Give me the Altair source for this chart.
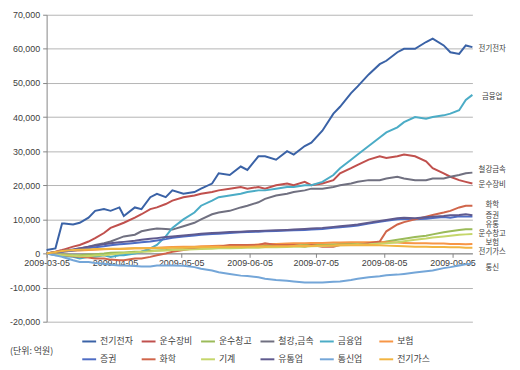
import altair as alt
import pandas as pd

dates = ["2009-03-05","2009-03-09","2009-03-12","2009-03-13","2009-03-17","2009-03-20","2009-03-24","2009-03-27",
         "2009-03-31","2009-04-03","2009-04-07","2009-04-09","2009-04-14","2009-04-17","2009-04-21","2009-04-24",
         "2009-04-28","2009-05-01","2009-05-06","2009-05-11","2009-05-14","2009-05-19","2009-05-22","2009-05-27",
         "2009-06-01","2009-06-04","2009-06-09","2009-06-12","2009-06-17","2009-06-22","2009-06-25","2009-06-30",
         "2009-07-03","2009-07-08","2009-07-13","2009-07-16","2009-07-21","2009-07-24","2009-07-29","2009-08-03",
         "2009-08-06","2009-08-11","2009-08-14","2009-08-19","2009-08-24","2009-08-27","2009-09-01","2009-09-04",
         "2009-09-08","2009-09-11","2009-09-14"]

elec = [1000,1500,8800,8800,8500,9000,10500,12500,13000,12500,13500,11000,13500,13000,16500,17500,16500,18500,
        17500,18000,19000,20500,23500,23000,25500,24500,28500,28500,27500,30000,29000,31500,32500,36000,41000,
        43000,47000,49000,52500,55500,56500,59000,60000,60000,62000,63000,61000,59000,58500,61000,60500]
trans_eq = [0,500,1000,1200,2000,2500,3500,4500,6000,7500,8500,9000,10500,11500,13000,13500,14500,15500,16500,
            17000,17500,18000,18500,19000,19500,19000,19500,19000,20000,20500,20000,21000,20000,20500,21500,23500,
            25000,26000,27500,28500,28000,28500,29000,28500,27000,25000,23500,22500,21500,21000,20500]
transport = [0,-200,-300,-300,-500,-500,-300,-200,0,200,300,300,500,600,800,900,1000,1200,1300,1500,1600,1700,
             1800,1900,2000,2000,2100,2200,2300,2400,2400,2500,2500,2600,2700,2800,2900,3000,3000,3100,3500,4000,
             4300,4800,5200,5600,6200,6500,6900,7100,7100]
steel = [0,300,500,700,1000,1500,2000,2500,3000,3500,4500,5000,5500,6500,7000,7300,7200,7000,8000,9000,10000,
         11500,12000,12500,13500,14000,15000,16000,17000,17500,18000,18500,19000,19000,19500,20000,20500,21000,
         21500,21500,22000,22500,22000,21500,21500,22000,22000,22500,23000,23500,23700]
finance = [0,-500,-500,-800,-1000,-1500,-1000,-1000,-500,-1000,-500,-500,0,500,1500,2500,5000,7500,10000,12000,
           14000,15500,16500,17000,17500,18000,18500,18500,19000,19500,19500,20000,20000,21000,23000,25000,27500,
           29000,31500,34000,35500,37000,38500,40000,39500,40000,40500,41000,42000,45000,46500]
insurance = [0,300,500,600,800,900,1000,1100,1200,1300,1300,1400,1500,1500,1600,1700,1800,1900,2000,2000,2100,
             2200,2300,2300,2400,2500,2600,2700,2800,2900,3000,3000,3100,3100,3200,3200,3300,3300,3300,3400,3300,
             3200,3100,3000,3000,2900,2900,2800,2800,2700,2800]
securities = [0,300,500,600,900,1100,1500,1800,2100,2400,2700,2800,3100,3300,3500,3800,4200,4600,5000,5300,5500,
              5700,5800,6000,6200,6300,6400,6500,6600,6700,6800,6900,7000,7200,7500,7700,8000,8200,8800,9300,9600,
              10000,10200,10000,10200,10400,10700,10500,10900,10800,10800]
chemical = [0,-300,-500,-500,-800,-1000,-1200,-1500,-1500,-1800,-2000,-2000,-1500,-1500,-1000,-500,0,500,1000,
            1500,1500,2000,2000,2500,2500,2500,2500,3000,2500,2500,2500,2000,2500,2000,2000,2500,2500,2500,3000,
            3500,6500,8500,9200,10000,10800,11300,12000,12500,13500,14000,14000]
machinery = [0,-300,-500,-500,-700,-800,-800,-600,-500,-300,0,100,300,500,600,800,900,1000,1100,1200,1300,1400,
             1500,1500,1600,1700,1700,1800,1800,1900,2000,2000,2100,2200,2300,2400,2500,2600,2700,2900,3000,3300,
             3600,4000,4400,4700,5000,5200,5500,5600,5700]
retail = [0,400,700,800,1200,1500,2000,2300,2700,3000,3300,3400,3700,4000,4300,4500,4800,5000,5300,5600,5800,6000,
          6100,6300,6400,6500,6600,6700,6800,6900,7000,7200,7300,7500,7800,8000,8300,8500,9000,9500,9800,10300,
          10500,10300,10600,10800,11000,11200,11300,11500,11200]
telecom = [0,-500,-1000,-1200,-2000,-2500,-2500,-2800,-3000,-3300,-3500,-3500,-3700,-3800,-3800,-3500,-3500,-3500,
           -3600,-4000,-4500,-5000,-5500,-6000,-6500,-6600,-7000,-7400,-7800,-8000,-8200,-8500,-8500,-8500,-8300,
           -8200,-7800,-7400,-7000,-6700,-6400,-6200,-6000,-5600,-5200,-5000,-4300,-4000,-3500,-3200,-2900]
utility = [0,400,700,800,1000,1100,1200,1300,1300,1400,1400,1400,1500,1500,1500,1600,1600,1700,1700,1800,1800,
           1900,1900,2000,2000,2000,2100,2000,2100,2100,2200,2200,2200,2300,2300,2400,2400,2400,2500,2400,2300,
           2200,2100,2000,2000,1900,1900,1800,1800,1700,1700]

series_names = ["전기전자","운수장비","운수창고","철강,금속","금융업","보험",
                "증권","화학","기계","유통업","통신업","전기가스"]
series_values = [elec, trans_eq, transport, steel, finance, insurance,
                 securities, chemical, machinery, retail, telecom, utility]
series_colors = ["#3A62A6","#C0504D","#9BBB59","#707080","#4BACC6","#F79646",
                 "#4E6CC4","#D0654A","#C5D66A","#5F5A8E","#74A6D8","#F2B441"]

end_labels = ["전기전자","금융업","철강금속","운수장비","화학","증권","유통","운수창고","보험","전기가스","통신"]
end_label_pos = [60000,46000,24600,20000,14300,10900,8300,5700,3100,500,-4300]

unit_text = ["(단위: 억원)"]
y_ticks = [-20000,-10000,0,10000,20000,30000,40000,50000,60000,70000]

rows = []
for name, vals in zip(series_names, series_values):
    for d, v in zip(dates, vals):
        rows.append({"date": d, "value": v, "series": name})
df = pd.DataFrame(rows)

month_ticks = [alt.DateTime(year=2009, month=m, date=5, utc=True) for m in range(3, 10)]
x_domain = [alt.DateTime(year=2009, month=3, date=5, utc=True),
            alt.DateTime(year=2009, month=9, date=14, utc=True)]

num_font = "Liberation Sans"
kr_font = "Noto Sans CJK KR"

y_scale = alt.Scale(domain=[-20000, 70000], nice=False)

lines = alt.Chart(df).mark_line(strokeWidth=2).encode(
    x=alt.X("date:T",
            scale=alt.Scale(type="utc", domain=x_domain),
            axis=alt.Axis(values=month_ticks, labelExpr="utcFormat(datum.value, '%Y-%m-%d')",
                          title=None, grid=False, offset=-69, tickSize=4, labelPadding=1,
                          labelOverlap=False, labelFlush=False,
                          domainColor="#868686", tickColor="#868686",
                          labelFont=num_font, labelFontSize=9, labelColor="#404040")),
    y=alt.Y("value:Q", scale=y_scale,
            axis=alt.Axis(values=y_ticks, title=None, labelOverlap=False, labelFlush=False,
                          labelExpr="(datum.value < 0 ? '-' : '') + format(abs(datum.value), ',')",
                          tickSize=4, labelPadding=3, domainColor="#868686", tickColor="#868686",
                          gridColor="#B4B4B4", labelFont=num_font, labelFontSize=9,
                          labelColor="#404040")),
    color=alt.Color("series:N",
                    scale=alt.Scale(domain=series_names, range=series_colors),
                    sort=series_names,
                    legend=alt.Legend(title=None, orient="none", legendX=35, legendY=322,
                                      direction="horizontal", columns=6, symbolType="stroke",
                                      symbolStrokeWidth=2, symbolSize=196, labelFont=kr_font,
                                      labelFontSize=9, labelColor="#404040", labelOffset=3,
                                      gridAlign="all", columnPadding=2, rowPadding=5, padding=0)),
    order=alt.Order("date:T"),
)

lab_df = pd.DataFrame({"label": end_labels, "pos": end_label_pos})
labels = alt.Chart(lab_df).mark_text(align="center", baseline="middle", font=kr_font,
                                     fontSize=7.5, color="#404040").encode(
    x=alt.value(450),
    y=alt.Y("pos:Q", scale=y_scale, axis=None),
    text="label:N",
)

unit = alt.Chart(pd.DataFrame({"t": unit_text})).mark_text(
    align="left", baseline="middle", font=kr_font, fontSize=9, color="#404040").encode(
    x=alt.value(-37), y=alt.value(340), text="t:N")

chart = alt.layer(lines, labels, unit).resolve_axis(y="independent").properties(
    width=430, height=310,
    padding={"left": 39, "top": 5, "right": 40, "bottom": 46},
    autosize=alt.AutoSizeParams(type="none"),
).configure_view(stroke=None)

chart.save("out.html", embed_options={"renderer": "svg", "actions": False})
